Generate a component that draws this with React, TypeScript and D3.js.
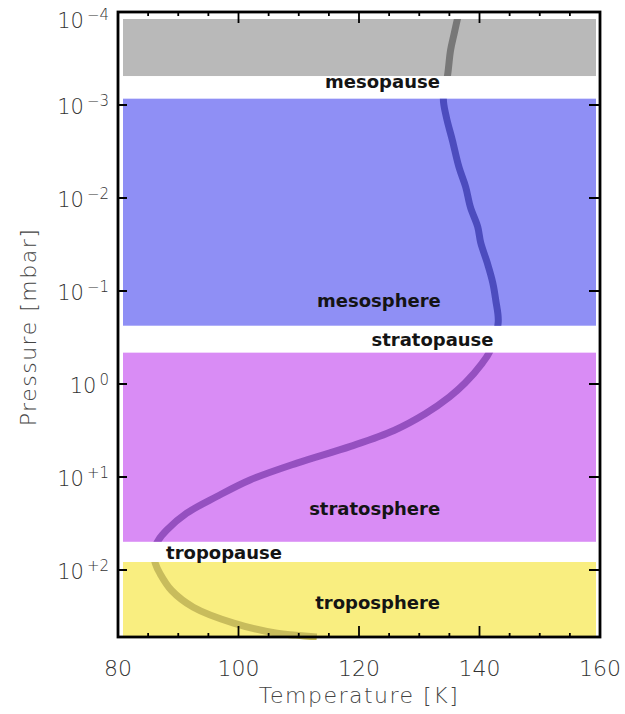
import React from "react";
import * as d3 from "d3";

const W = 625;
const H = 714;
const plot = { left: 118, right: 600, top: 12, bottom: 637 };

// Temperature profile: pressure [mbar] and temperature [K]
const pressure = [
  1.0e-4, 1.7e-4, 2.57e-4, 4.79e-4, 8.5e-4, 1.35e-3, 2.4e-3, 4.68e-3, 7.59e-3,
  1.26e-2, 2.04e-2, 3.02e-2, 5.01e-2, 8.13e-2, 0.126, 0.219, 0.447, 0.603, 0.977,
  1.38, 2.09, 3.16, 4.68, 7.08, 10.7, 16.2, 24.5, 37.2, 47.9, 63, 85.1, 110, 166,
  251, 372, 479, 501, 525,
];
const temperature = [
  136.6, 135.8, 135.2, 134.7, 134.0, 134.5, 135.5, 136.6, 137.7, 138.5, 139.7,
  140.2, 141.3, 142.2, 142.7, 143.1, 141.7, 140.4, 137.6, 135.0, 131.0, 125.8,
  118.6, 109.7, 102.0, 96.4, 91.4, 88.1, 86.7, 85.9, 86.2, 87.0, 88.9, 92.5,
  99.2, 106.4, 109.5, 113.0,
];

// Atmospheric layers (pressure bounds in mbar)
const layerTop = [1.19e-4, 8.55e-4, 0.46, 82];
const layerBottom = [4.88e-4, 0.236, 49.7, 525];
const layerFill = ["#b9b9b9", "#8f8ff5", "#d98cf5", "#f9ee80"];
const layerLine = ["#787878", "#4c4cbe", "#9550c0", "#c8bc5c"];

// Annotations anchored at (temperature, pressure)
const labelText = ["mesopause", "mesosphere", "stratopause", "stratosphere", "tropopause", "troposphere"];
const labelT = [123.9, 123.3, 132.2, 122.6, 97.6, 123.1];
const labelP = [6.6e-4, 0.149, 0.39, 25.6, 76.2, 262];

const tempTicks = [80, 100, 120, 140, 160];
const tempMinorStep = 5;
const pressureExponents = [-4, -3, -2, -1, 0, 1, 2];
const exponentLabels = ["\u22124", "\u22123", "\u22122", "\u22121", "0", "+1", "+2"];

const axisFont = "'DejaVu Sans', sans-serif";

export default function App() {
  const x = d3.scaleLinear().domain([80, 160]).range([plot.left, plot.right]);
  const y = d3.scaleLog().domain([1e-4, 525]).range([plot.top, plot.bottom]);

  const pts = pressure.map((p, i) => [temperature[i], p] as [number, number]);
  const line = d3
    .line<[number, number]>()
    .x((d) => x(d[0]))
    .y((d) => y(d[1]))
    .curve(d3.curveCatmullRom.alpha(0.5));
  const pathD = line(pts) || "";

  const minorTicks = d3.range(80, 160 + 0.001, tempMinorStep);

  return (
    <svg width={W} height={H} style={{ display: "block", position: "absolute", left: 0, top: 0, background: "#fff" }}>
      <defs>
        {layerTop.map((t, i) => (
          <clipPath id={`layer-clip-${i}`} key={i}>
            <rect
              x={0}
              y={y(t)}
              width={W}
              height={y(layerBottom[i]) - y(t) + (i === layerTop.length - 1 ? 3 : 0)}
            />
          </clipPath>
        ))}
      </defs>

      {/* layer bands */}
      {layerTop.map((t, i) => (
        <rect
          key={i}
          x={plot.left + 5}
          y={y(t)}
          width={plot.right - plot.left - 9}
          height={y(layerBottom[i]) - y(t)}
          fill={layerFill[i]}
        />
      ))}

      {/* temperature profile, coloured per layer */}
      {layerTop.map((_, i) => (
        <g key={i} clipPath={`url(#layer-clip-${i})`}>
          <path d={pathD} fill="none" stroke={layerLine[i]} strokeWidth={7} />
        </g>
      ))}

      {/* layer names */}
      {labelText.map((t, i) => (
        <text
          key={t}
          x={x(labelT[i])}
          y={y(labelP[i])}
          textAnchor="middle"
          fontFamily="'DejaVu Sans', sans-serif"
          fontWeight="bold"
          fontSize={18}
          fill="#141414"
        >
          {t}
        </text>
      ))}

      {/* frame */}
      <rect
        x={plot.left}
        y={plot.top}
        width={plot.right - plot.left}
        height={plot.bottom - plot.top}
        fill="none"
        stroke="#000"
        strokeWidth={2.8}
      />

      {/* temperature ticks (top and bottom) */}
      {minorTicks.map((t) => {
        const major = tempTicks.includes(t);
        const len = major ? 11 : 4;
        if (t === 80 || t === 160) return null;
        return (
          <g key={t} stroke="#000" strokeWidth={1.8}>
            <line x1={x(t)} x2={x(t)} y1={plot.top} y2={plot.top + len} />
            <line x1={x(t)} x2={x(t)} y1={plot.bottom} y2={plot.bottom - len} />
          </g>
        );
      })}

      {/* pressure ticks (left and right) */}
      {pressureExponents.map((e) => {
        const yy = y(Math.pow(10, e));
        if (e === -4) return null;
        return (
          <g key={e} stroke="#000" strokeWidth={2}>
            <line x1={plot.left} x2={plot.left + 9} y1={yy} y2={yy} />
            <line x1={plot.right} x2={plot.right - 11} y1={yy} y2={yy} />
          </g>
        );
      })}

      {/* temperature tick labels */}
      {tempTicks.map((t) => (
        <text
          key={t}
          x={x(t)}
          y={676}
          textAnchor="middle"
          fontFamily={axisFont}
          fontWeight={200}
          fontSize={22}
          fill="#333"
        >
          {t}
        </text>
      ))}

      {/* pressure tick labels */}
      {pressureExponents.map((e, i) => {
        const yy = Math.max(y(Math.pow(10, e)) + 9, 28);
        return (
          <text
            key={e}
            x={109}
            y={yy}
            textAnchor="end"
            fontFamily={axisFont}
            fontWeight={200}
            fontSize={21}
            fill="#333"
          >
            10
            <tspan dy={-8} fontSize={15} dx={3}>
              {exponentLabels[i]}
            </tspan>
          </text>
        );
      })}

      {/* axis titles */}
      <text
        x={(plot.left + plot.right) / 2}
        y={703}
        textAnchor="middle"
        fontFamily={axisFont}
        fontWeight={200}
        fontSize={22}
        letterSpacing={1.5}
        fill="#444"
      >
        Temperature [K]
      </text>
      <text
        transform={`translate(36, 327) rotate(-90)`}
        textAnchor="middle"
        fontFamily={axisFont}
        fontWeight={200}
        fontSize={22}
        letterSpacing={1.5}
        fill="#444"
      >
        Pressure [mbar]
      </text>
    </svg>
  );
}
